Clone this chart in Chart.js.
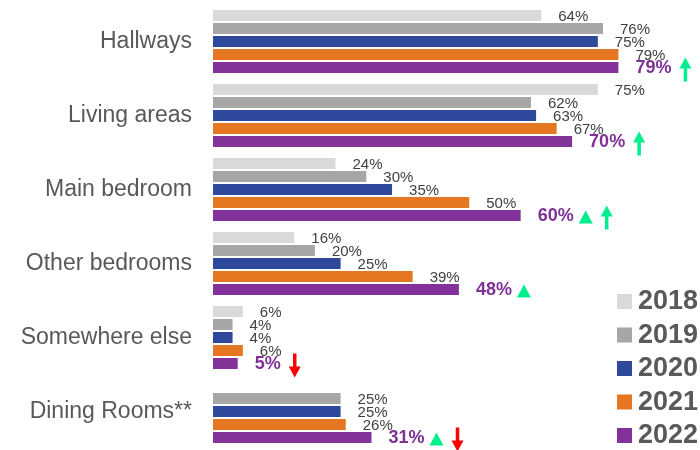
<!DOCTYPE html>
<html lang="en">

<head>
    <meta charset="UTF-8">
    <meta name="viewport" content="width=device-width, initial-scale=1.0">
    <title>Rooms</title>
    <script src="https://cdn.jsdelivr.net/npm/chart.js"></script>
    <style>
        html, body {
            margin: 0;
            padding: 0;
            background: #ffffff;
        }

        #roomChart {
            display: block;
        }
    </style>
</head>

<body>
    <canvas id="roomChart" width="700" height="450"></canvas>

    <script>
        const categories = ['Hallways', 'Living areas', 'Main bedroom', 'Other bedrooms', 'Somewhere else', 'Dining Rooms**'];
        const years = ['2018', '2019', '2020', '2021', '2022'];

        const values2018 = [64, 75, 24, 16, 6, null];
        const values2019 = [76, 62, 30, 20, 4, 25];
        const values2020 = [75, 63, 35, 25, 4, 25];
        const values2021 = [79, 67, 50, 39, 6, 26];
        const values2022 = [79, 70, 60, 48, 5, 31];

        // markers shown after the latest year's label
        const trendTriangle = [false, false, true, true, false, true];
        const trendArrow = ['up', 'up', 'up', null, 'down', 'down'];

        const colors = ['#d9d9d9', '#a6a6a6', '#2e489c', '#e67722', '#833299'];
        const seriesValues = [values2018, values2019, values2020, values2021, values2022];

        const FONT = '"Liberation Sans", Arial, sans-serif';
        const GREEN = '#00ee8e';
        const RED = '#ff0000';

        // value text next to every bar, plus the trend markers on the 2022 bars
        const barLabels = {
            id: 'barLabels',
            afterDatasetsDraw(chart) {
                const ctx = chart.ctx;
                const last = chart.data.datasets.length - 1;
                ctx.save();
                ctx.textBaseline = 'middle';
                ctx.textAlign = 'left';
                chart.data.datasets.forEach((ds, d) => {
                    const meta = chart.getDatasetMeta(d);
                    meta.data.forEach((bar, i) => {
                        const v = ds.data[i];
                        if (v === null) return;
                        const text = v + '%';
                        const x = bar.x + 16;
                        const y = bar.y + 1;
                        if (d === last) {
                            ctx.font = 'bold 18px ' + FONT;
                            ctx.fillStyle = '#7f3196';
                        } else {
                            ctx.font = '15px ' + FONT;
                            ctx.fillStyle = '#404040';
                        }
                        ctx.fillText(text, x, y);
                        if (d !== last) return;

                        let end = x + ctx.measureText(text).width;
                        if (trendTriangle[i]) {
                            const tx = end + 5;
                            ctx.fillStyle = GREEN;
                            ctx.beginPath();
                            ctx.moveTo(tx, y + 7);
                            ctx.lineTo(tx + 14, y + 7);
                            ctx.lineTo(tx + 7, y - 6);
                            ctx.closePath();
                            ctx.fill();
                            end = tx + 14;
                        }
                        if (trendArrow[i]) {
                            drawArrow(ctx, end + 14, y + 1, trendArrow[i]);
                        }
                    });
                });
                ctx.restore();
            }
        };

        function drawArrow(ctx, cx, cy, dir) {
            const half = 12;
            const head = 11;
            ctx.fillStyle = dir === 'up' ? GREEN : RED;
            ctx.beginPath();
            if (dir === 'up') {
                const top = cy - half;
                ctx.moveTo(cx, top);
                ctx.lineTo(cx + 6, top + head);
                ctx.lineTo(cx - 6, top + head);
                ctx.closePath();
                ctx.fill();
                ctx.fillRect(cx - 1.75, top + head - 1, 3.5, 2 * half - head + 1);
            } else {
                const bottom = cy + half;
                ctx.moveTo(cx, bottom);
                ctx.lineTo(cx + 6, bottom - head);
                ctx.lineTo(cx - 6, bottom - head);
                ctx.closePath();
                ctx.fill();
                ctx.fillRect(cx - 1.75, cy - half, 3.5, 2 * half - head + 1);
            }
        }

        // year legend in the lower right corner, over the plot
        const yearLegend = {
            id: 'yearLegend',
            afterDraw(chart) {
                const ctx = chart.ctx;
                ctx.save();
                ctx.font = 'bold 27px ' + FONT;
                ctx.textBaseline = 'alphabetic';
                ctx.textAlign = 'left';
                chart.data.datasets.forEach((ds, d) => {
                    const base = 309 + d * 33.5;
                    ctx.fillStyle = ds.backgroundColor;
                    ctx.fillRect(617, base - 15, 15, 15);
                    ctx.fillStyle = '#595959';
                    ctx.fillText(ds.label, 638, base);
                });
                ctx.restore();
            }
        };

        const ctx = document.getElementById('roomChart').getContext('2d');
        new Chart(ctx, {
            type: 'bar',
            data: {
                labels: categories,
                datasets: years.map((year, d) => ({
                    label: year,
                    data: seriesValues[d],
                    backgroundColor: colors[d],
                    borderColor: 'rgba(255, 255, 255, 0.45)',
                    borderWidth: 1,
                    barPercentage: 1,
                    categoryPercentage: 65 / 74
                }))
            },
            options: {
                indexAxis: 'y',
                responsive: false,
                animation: false,
                layout: {
                    autoPadding: false,
                    padding: { top: 4.5, bottom: 1.5, left: 0, right: 24 }
                },
                plugins: {
                    legend: { display: false },
                    tooltip: { enabled: false }
                },
                scales: {
                    x: {
                        display: false,
                        min: 0,
                        max: 90
                    },
                    y: {
                        grid: { display: false, drawTicks: false },
                        border: { display: false },
                        ticks: {
                            padding: 21,
                            color: '#595959',
                            font: { family: FONT, size: 23 }
                        },
                        afterFit(scale) {
                            // fixed axis width, no extra room above/below the bands
                            scale.width = 213;
                            scale.paddingTop = 0;
                            scale.paddingBottom = 0;
                        }
                    }
                }
            },
            plugins: [barLabels, yearLegend]
        });
    </script>
</body>

</html>
